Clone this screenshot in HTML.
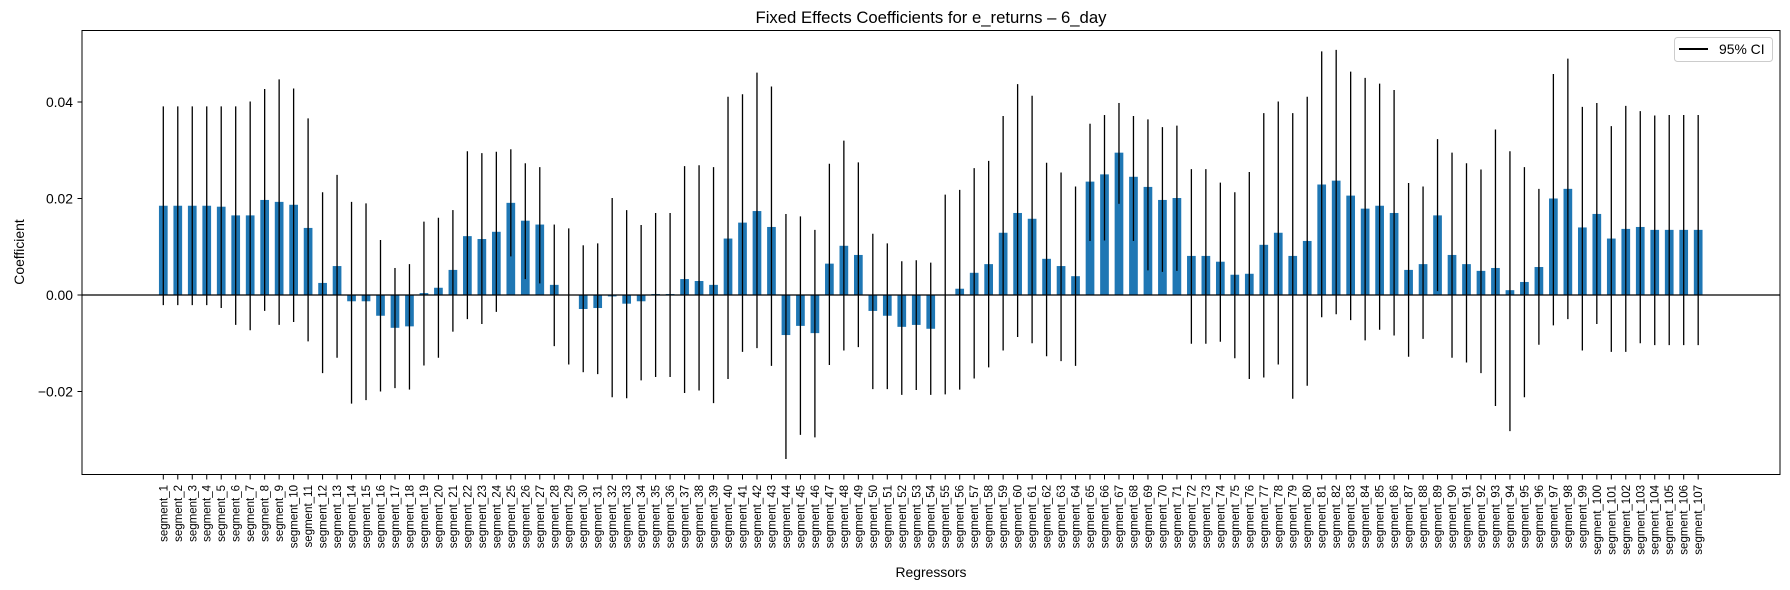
<!DOCTYPE html>
<html><head><meta charset="utf-8"><style>
body{margin:0;background:#fff;}
svg{display:block;font-family:"Liberation Sans",sans-serif;}
</style></head><body>
<svg id="chart" width="1790" height="590">
<rect width="1790" height="590" fill="#fff"/>
<text x="931" y="23" text-anchor="middle" font-size="16.7">Fixed Effects Coefficients for e_returns – 6_day</text>
<text x="931" y="577" text-anchor="middle" font-size="13.9">Regressors</text>
<text transform="translate(24,252) rotate(-90)" text-anchor="middle" font-size="13.9">Coefficient</text>
<g id="plot"></g>
<rect x="82" y="30.5" width="1698" height="444" fill="none" stroke="#000" stroke-width="1"/>
<g>
<rect x="1674.5" y="37.5" width="98" height="24" rx="3" fill="#fff" stroke="#ccc"/>
<line x1="1679" y1="49" x2="1708" y2="49" stroke="#000" stroke-width="2"/>
<text x="1719" y="54" font-size="13.9">95% CI</text>
</g>
</svg>
<script>
const coefs=[0.0185,0.0185,0.0185,0.0185,0.0183,0.0165,0.0165,0.0197,0.0193,0.0187,0.0139,0.0025,0.0060,-0.0013,-0.0013,-0.0043,-0.0068,-0.0065,0.0004,0.0015,0.0052,0.0122,0.0116,0.0131,0.0191,0.0154,0.0146,0.0021,0.0000,-0.0029,-0.0027,-0.0003,-0.0018,-0.0013,0.0002,0.0002,0.0033,0.0029,0.0021,0.0117,0.0150,0.0174,0.0141,-0.0083,-0.0064,-0.0079,0.0065,0.0102,0.0083,-0.0033,-0.0043,-0.0066,-0.0062,-0.0070,0.0000,0.0013,0.0046,0.0064,0.0129,0.0170,0.0158,0.0075,0.0060,0.0039,0.0235,0.0250,0.0295,0.0245,0.0224,0.0197,0.0201,0.0081,0.0081,0.0069,0.0042,0.0044,0.0104,0.0129,0.0081,0.0112,0.0229,0.0237,0.0206,0.0179,0.0185,0.0170,0.0052,0.0064,0.0165,0.0083,0.0064,0.0050,0.0056,0.0010,0.0027,0.0058,0.0200,0.0220,0.0140,0.0168,0.0117,0.0137,0.0141,0.0135,0.0135,0.0135,0.0135];
const ciLow=[-0.0021,-0.0021,-0.0021,-0.0021,-0.0027,-0.0062,-0.0073,-0.0033,-0.0062,-0.0056,-0.0096,-0.0162,-0.0130,-0.0225,-0.0218,-0.0200,-0.0193,-0.0196,-0.0146,-0.0130,-0.0076,-0.0050,-0.0060,-0.0035,0.0080,0.0033,0.0024,-0.0106,-0.0144,-0.0160,-0.0164,-0.0212,-0.0214,-0.0177,-0.0170,-0.0170,-0.0203,-0.0198,-0.0224,-0.0174,-0.0118,-0.0110,-0.0147,-0.0340,-0.0290,-0.0295,-0.0145,-0.0115,-0.0108,-0.0195,-0.0195,-0.0207,-0.0197,-0.0207,-0.0206,-0.0196,-0.0173,-0.0150,-0.0115,-0.0087,-0.0100,-0.0127,-0.0137,-0.0147,0.0112,0.0113,0.0189,0.0112,0.0051,0.0048,0.0050,-0.0101,-0.0101,-0.0097,-0.0131,-0.0174,-0.0171,-0.0144,-0.0215,-0.0188,-0.0046,-0.0040,-0.0052,-0.0094,-0.0072,-0.0084,-0.0128,-0.0091,0.0008,-0.0130,-0.0140,-0.0162,-0.0230,-0.0282,-0.0212,-0.0103,-0.0063,-0.0050,-0.0115,-0.0060,-0.0118,-0.0118,-0.0100,-0.0104,-0.0104,-0.0104,-0.0104];
const ciHigh=[0.0391,0.0391,0.0391,0.0391,0.0391,0.0391,0.0401,0.0427,0.0447,0.0428,0.0366,0.0213,0.0249,0.0193,0.0190,0.0114,0.0056,0.0064,0.0152,0.0160,0.0176,0.0298,0.0294,0.0297,0.0302,0.0273,0.0265,0.0146,0.0138,0.0103,0.0107,0.0201,0.0176,0.0145,0.0170,0.0170,0.0267,0.0269,0.0265,0.0411,0.0416,0.0461,0.0432,0.0168,0.0163,0.0135,0.0272,0.0320,0.0275,0.0127,0.0107,0.0070,0.0072,0.0067,0.0208,0.0218,0.0263,0.0278,0.0371,0.0437,0.0413,0.0274,0.0254,0.0225,0.0355,0.0373,0.0398,0.0371,0.0364,0.0348,0.0351,0.0261,0.0261,0.0233,0.0213,0.0255,0.0377,0.0401,0.0377,0.0411,0.0505,0.0508,0.0463,0.0450,0.0438,0.0425,0.0232,0.0225,0.0323,0.0295,0.0273,0.0260,0.0343,0.0298,0.0265,0.0220,0.0458,0.0490,0.0390,0.0398,0.0350,0.0392,0.0381,0.0372,0.0373,0.0373,0.0373];
const yTicks=[-0.02,0.00,0.02,0.04];
const yTickLabels=["−0.02","0.00","0.02","0.04"];
const categories=coefs.map((_,i)=>"segment_"+(i+1));

const NS="http://www.w3.org/2000/svg";
const g=document.getElementById('plot');
const X=i=>163.3+i*14.48;
const Y=v=>295-v*4825;
function mk(t,a){const e=document.createElementNS(NS,t);for(const k in a)e.setAttribute(k,a[k]);g.appendChild(e);return e;}

yTicks.forEach((v,i)=>{
  const t=mk('line',{x1:77.5,x2:82,y1:Y(v),y2:Y(v),stroke:'#000'});
  
  
  const l=mk('text',{x:73,y:Y(v)+5,'text-anchor':'end','font-size':'13.9'});
  l.textContent=yTickLabels[i];
  
  
});
categories.forEach((c,i)=>{
  const v=coefs[i];
  const b=mk('rect',{x:X(i)-4.35,width:8.7,y:Math.min(Y(v),Y(0)),height:Math.max(Math.abs(Y(v)-Y(0)),0.01),fill:'#1f77b4'});
  
  
});
mk('line',{x1:82,x2:1780,y1:Y(0),y2:Y(0),stroke:'#000','stroke-width':1.3});
categories.forEach((c,i)=>{
  const e=mk('line',{x1:X(i),x2:X(i),y1:Y(ciLow[i]),y2:Y(ciHigh[i]),stroke:'#000','stroke-width':1.3});
  
  
  const t=mk('line',{x1:X(i),x2:X(i),y1:474.5,y2:479.5,stroke:'#000'});
  
  
  const l=mk('text',{transform:`translate(${X(i)+4},485) rotate(-90)`,'text-anchor':'end','font-size':'11.5'});
  l.textContent=c;
  
  
});
</script>
</body></html>
